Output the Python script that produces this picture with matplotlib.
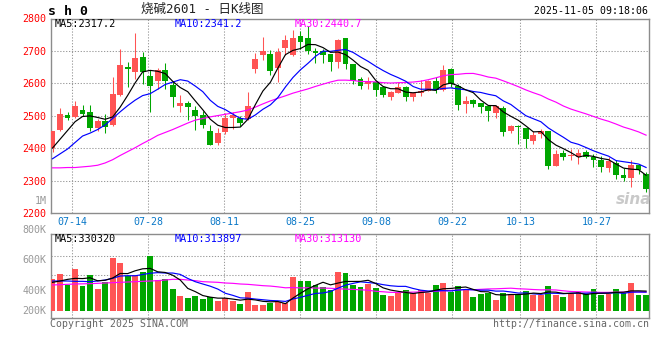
import numpy as np
import matplotlib
matplotlib.use("Agg")
import matplotlib.pyplot as plt

plt.rcParams['font.family'] = ['DejaVu Sans Mono', 'Noto Sans CJK SC']

# ---------------- data ----------------
dates = ["07-09", "07-10", "07-11", "07-14", "07-15", "07-16", "07-17", "07-18", "07-21", "07-22",
         "07-23", "07-24", "07-25", "07-28", "07-29", "07-30", "07-31", "08-01", "08-04", "08-05",
         "08-06", "08-07", "08-08", "08-11", "08-12", "08-13", "08-14", "08-15", "08-18", "08-19",
         "08-20", "08-21", "08-22", "08-25", "08-26", "08-27", "08-28", "08-29", "09-01", "09-02",
         "09-03", "09-04", "09-05", "09-08", "09-09", "09-10", "09-11", "09-12", "09-15", "09-16",
         "09-17", "09-18", "09-19", "09-22", "09-23", "09-24", "09-25", "09-26", "09-29", "09-30",
         "10-09", "10-10", "10-13", "10-14", "10-15", "10-16", "10-17", "10-20", "10-21", "10-22",
         "10-23", "10-24", "10-27", "10-28", "10-29", "10-30", "10-31", "11-03", "11-04", "11-05"]

opens = [2401, 2458, 2504, 2496, 2518, 2513, 2463, 2485, 2472, 2564,
         2651, 2634, 2682, 2623, 2606, 2642, 2596, 2530, 2539, 2519,
         2503, 2455, 2417, 2450, 2494, 2494, 2491, 2644, 2687, 2692,
         2646, 2709, 2687, 2746, 2739, 2701, 2701, 2692, 2666, 2741,
         2661, 2615, 2598, 2605, 2588, 2557, 2572, 2588, 2557, 2569,
         2578, 2607, 2580, 2644, 2593, 2537, 2550, 2539, 2529, 2508,
         2525, 2453, 2470, 2463, 2422, 2445, 2455, 2346, 2386, 2375,
         2373, 2389, 2373, 2365, 2341, 2355, 2318, 2309, 2349, 2322]
highs = [2455, 2525, 2511, 2547, 2534, 2535, 2489, 2506, 2621, 2705,
         2666, 2756, 2698, 2641, 2647, 2662, 2608, 2563, 2547, 2532,
         2514, 2472, 2462, 2509, 2511, 2501, 2573, 2693, 2743, 2703,
         2709, 2749, 2766, 2763, 2777, 2710, 2705, 2692, 2738, 2741,
         2661, 2621, 2620, 2605, 2591, 2578, 2603, 2591, 2575, 2610,
         2610, 2620, 2657, 2649, 2598, 2562, 2552, 2541, 2531, 2533,
         2530, 2472, 2472, 2463, 2452, 2461, 2455, 2394, 2394, 2398,
         2397, 2394, 2384, 2378, 2373, 2365, 2338, 2363, 2349, 2328]
lows = [2389, 2452, 2488, 2494, 2499, 2455, 2455, 2448, 2470, 2562,
        2589, 2613, 2598, 2513, 2583, 2583, 2527, 2511, 2487, 2458,
        2462, 2410, 2411, 2443, 2460, 2470, 2488, 2632, 2671, 2627,
        2603, 2687, 2683, 2705, 2692, 2664, 2664, 2639, 2649, 2645,
        2598, 2583, 2583, 2562, 2559, 2550, 2570, 2545, 2545, 2562,
        2576, 2569, 2577, 2588, 2519, 2510, 2528, 2508, 2484, 2493,
        2438, 2447, 2412, 2401, 2414, 2432, 2335, 2346, 2363, 2363,
        2353, 2371, 2343, 2328, 2328, 2307, 2300, 2282, 2322, 2266]
closes = [2453, 2507, 2493, 2532, 2506, 2462, 2483, 2465, 2568, 2656,
          2643, 2677, 2634, 2591, 2642, 2608, 2557, 2539, 2527, 2501,
          2471, 2410, 2447, 2492, 2502, 2477, 2529, 2674, 2701, 2637,
          2697, 2734, 2740, 2729, 2701, 2693, 2689, 2667, 2734, 2661,
          2608, 2591, 2608, 2581, 2565, 2574, 2590, 2557, 2570, 2578,
          2608, 2580, 2642, 2598, 2534, 2547, 2537, 2528, 2514, 2532,
          2450, 2470, 2466, 2428, 2440, 2455, 2345, 2382, 2373, 2380,
          2385, 2373, 2365, 2342, 2361, 2318, 2310, 2349, 2334, 2275]
volumes = [531000, 614000, 432000, 697000, 415000, 598000, 365000, 476000, 880000, 797000,
           586000, 598000, 642000, 913000, 515000, 531000, 365000, 249000, 216000, 249000,
           204000, 232000, 166000, 216000, 171000, 116000, 315000, 100000, 100000, 128000,
           144000, 138000, 564000, 498000, 498000, 432000, 393000, 349000, 647000, 631000,
           432000, 398000, 443000, 382000, 266000, 249000, 294000, 349000, 294000, 349000,
           297000, 435000, 468000, 323000, 418000, 347000, 235000, 285000, 307000, 186000,
           307000, 285000, 285000, 340000, 269000, 269000, 418000, 269000, 235000, 276930,
           308000, 275000, 358000, 259000, 287370, 364000, 293000, 464000, 265300, 265300]

# moving-average values before enough in-chart history exists
ma5_head = [2401, 2428, 2455, 2482]
ma10_head = [2368, 2383, 2398, 2418, 2438, 2447, 2458, 2472, 2492]
ma30_head = [2340, 2340, 2341, 2341, 2343, 2345, 2348, 2355, 2365, 2378,
             2390, 2402, 2415, 2427, 2440, 2449, 2458, 2468, 2478, 2487,
             2492, 2497, 2501, 2505, 2509, 2513, 2518, 2527, 2537]
vma5_head = [475700, 498000, 525000, 542000]
vma10_head = [498000, 498000, 498000, 492000, 492000, 486600, 498000, 514000, 542000]
vma30_head = [431600, 437100, 442600, 448200, 451000, 453700, 459300, 464800, 470300, 475900,
              481400, 487000, 492500, 498000, 503600, 514600, 525700, 525700, 514600, 503600,
              487000, 481400, 475900, 464800, 459300, 448200, 442600, 431600, 420500]

tick_dates = ["07-14", "07-28", "08-11", "08-25", "09-08", "09-22", "10-13", "10-27"]
price_ticks = [2200, 2300, 2400, 2500, 2600, 2700, 2800]
vol_tick_labels = ["1M", "800K", "600K", "400K", "200K"]

title_code = "s h 0"
title_name = "烧碱2601 - 日K线图"
timestamp = "2025-11-05 09:18:06"

# ---------------- helpers ----------------
def moving_average(vals, window, head):
    arr = np.asarray(vals, dtype=float)
    tail = np.convolve(arr, np.ones(window) / window, mode="valid")
    return np.concatenate([np.asarray(head, dtype=float), tail])

ma5 = moving_average(closes, 5, ma5_head)
ma10 = moving_average(closes, 10, ma10_head)
ma30 = moving_average(closes, 30, ma30_head)
vma5 = moving_average(volumes, 5, vma5_head)
vma10 = moving_average(volumes, 10, vma10_head)
vma30 = moving_average(volumes, 30, vma30_head)

RED = "#ff5454"
GREEN = "#00a600"
GRID = "#9a9a9a"
FRAME = "#8c8c8c"
DATE_BLUE = "#0a78c8"

W, H = 660, 360
fig = plt.figure(figsize=(6.6, 3.6), dpi=100)
fig.patch.set_facecolor("white")

def rect(x0, y0, x1, y1):
    return [x0 / W, 1 - y1 / H, (x1 - x0) / W, (y1 - y0) / H]

def fx(px):
    return px / W

def fy(py):
    return 1 - py / H

ax = fig.add_axes(rect(50.7, 18.5, 649.3, 213.3))
axv = fig.add_axes(rect(50.7, 234.3, 649.3, 318.3))

n = len(closes)
x = np.arange(n)
o = np.asarray(opens, float)
c = np.asarray(closes, float)
hi = np.asarray(highs, float)
lo = np.asarray(lows, float)
up = c >= o
colors = np.where(up, RED, GREEN)

xlim = (-0.24, n - 0.57)
# Sina's date grid is spaced slightly wider than the candle pitch
tick_idx = [dates.index(d) for d in tick_dates]
grid_x = [1.0108 * i - 0.40 for i in tick_idx]

dotted = dict(color=GRID, lw=0.75, ls=(0, (1.2, 1.6)), zorder=0.5)

# ---------------- price panel ----------------
for v in price_ticks[1:-1]:
    ax.axhline(v, **dotted)
for gx in grid_x:
    ax.axvline(gx, **dotted)

ax.vlines(x, lo, hi, colors=colors, lw=0.75, zorder=2)
body_bottom = np.minimum(o, c)
body_h = np.maximum(np.abs(c - o), 2.0)
ax.bar(x, body_h, bottom=body_bottom, width=0.78, color=colors, linewidth=0, zorder=3)

ax.plot(x, ma30, color="#ff00ff", lw=0.85, zorder=4)
ax.plot(x, ma10, color="#0000ff", lw=0.85, zorder=4)
ax.plot(x, ma5, color="black", lw=0.85, zorder=5)

ax.set_xlim(*xlim)
ax.set_ylim(price_ticks[0], price_ticks[-1])
ax.set_yticks(price_ticks)
ax.set_yticklabels([str(v) for v in price_ticks], color="#ff0000", fontsize=7.2)
ax.set_xticks(grid_x)
ax.set_xticklabels(tick_dates, color=DATE_BLUE, fontsize=7.2)
ax.tick_params(axis="y", length=0, pad=3.2)
ax.tick_params(axis="x", length=0, pad=3.0)
for s in ax.spines.values():
    s.set_color(FRAME)
    s.set_linewidth(1.0)

ax.text(fx(55), fy(24), f"MA5:{ma5[-1]:.1f}", transform=fig.transFigure, color="black",
        fontsize=7.3, va="center", ha="left", zorder=6)
ax.text(fx(175), fy(24), f"MA10:{ma10[-1]:.1f}", transform=fig.transFigure, color="#0000ff",
        fontsize=7.3, va="center", ha="left", zorder=6)
ax.text(fx(295), fy(24), f"MA30:{ma30[-1]:.1f}", transform=fig.transFigure, color="#ff00ff",
        fontsize=7.3, va="center", ha="left", zorder=6)

# watermark
fig.text(fx(634), fy(199), "sina", color="#c4c4c4", fontsize=11, style="italic",
         weight="bold", family="DejaVu Sans", ha="center", va="center", alpha=0.9)

# ---------------- volume panel ----------------
for gx in grid_x:
    axv.axvline(gx, **dotted)
for fr in (0.745, 0.512):
    axv.plot([0, 1], [fr, fr], transform=axv.transAxes, **dotted)

axv.bar(x, volumes, width=0.78, color=colors, linewidth=0, zorder=3)
axv.plot(x, vma30, color="#ff00ff", lw=0.85, zorder=4)
axv.plot(x, vma10, color="#0000ff", lw=0.85, zorder=4)
axv.plot(x, vma5, color="black", lw=0.85, zorder=5)

axv.set_xlim(*xlim)
axv.set_ylim(-121180, 1273220)
axv.set_xticks([])
axv.set_yticks([])
for s in axv.spines.values():
    s.set_color(FRAME)
    s.set_linewidth(1.0)

vol_label_y = [200.5, 230.3, 260.0, 290.7, 311.0]
for lab, py in zip(vol_tick_labels, vol_label_y):
    fig.text(fx(46.5), fy(py), lab, color="#999999", fontsize=7.2, ha="right", va="center")

fig.text(fx(55), fy(238.5), f"MA5:{vma5[-1]:.0f}", color="black", fontsize=7.3, va="center")
fig.text(fx(175), fy(238.5), f"MA10:{vma10[-1]:.0f}", color="#0000ff", fontsize=7.3, va="center")
fig.text(fx(295), fy(238.5), f"MA30:{vma30[-1]:.0f}", color="#ff00ff", fontsize=7.3, va="center")

# ---------------- header / footer ----------------
fig.text(fx(48.5), fy(11.5), title_code, fontsize=9.5, weight="bold", ha="left", va="center")
fig.text(fx(202), fy(9.5), title_name, fontsize=9, ha="center", va="center", color="#222222")
fig.text(fx(648.5), fy(11.2), timestamp, fontsize=7.1, ha="right", va="center")

fig.text(fx(50), fy(323.7), "Copyright 2025 SINA.COM", fontsize=7.1, color="#666666",
         ha="left", va="center")
fig.text(fx(649.3), fy(323.7), "http://finance.sina.com.cn", fontsize=7.1, color="#666666",
         ha="right", va="center")

fig.savefig("out.png", dpi=100, facecolor="white")
